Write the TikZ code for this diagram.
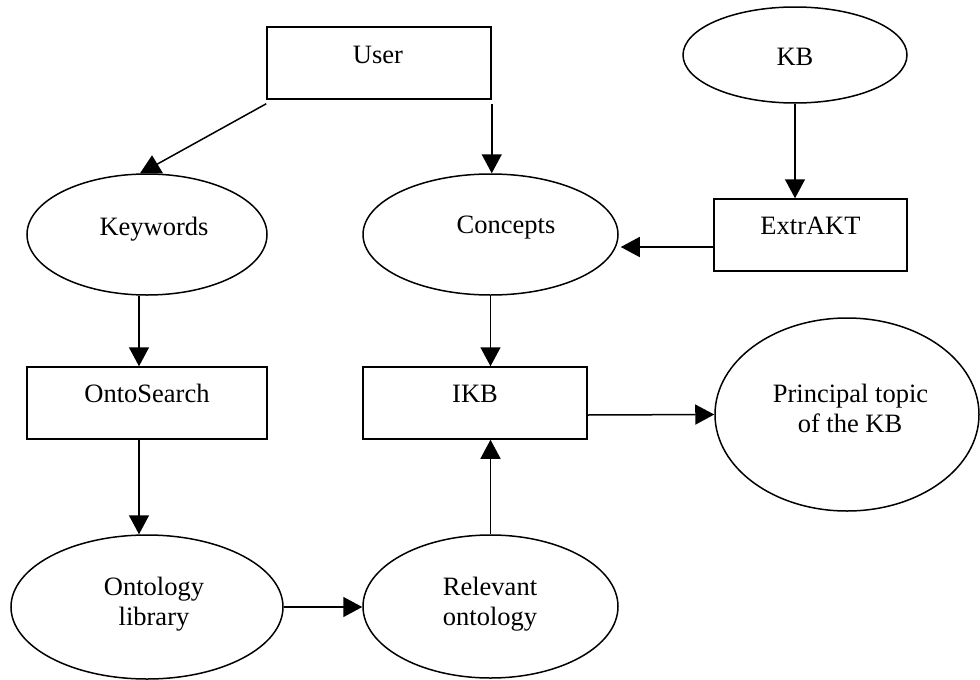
\documentclass[tikz,border=0pt]{standalone}
\usepackage{fontspec}
\setmainfont{Liberation Serif}
\usetikzlibrary{arrows.meta,shapes.geometric}

\tikzset{
  shapeline/.style={draw=black, line width=1.5pt},
  box/.style={shapeline, rectangle, inner sep=0pt},
  oval/.style={shapeline, ellipse, inner sep=0pt},
  lbl/.style={anchor=base, inner sep=0pt, font=\fontsize{26.5}{30}\selectfont},
  flow/.style={line width=1.5pt, -{Triangle[length=19pt,width=20pt]}},
  plain/.style={line width=1.5pt}
}

\begin{document}
\begin{tikzpicture}[x=1pt, y=-1pt]
\useasboundingbox (0,0) rectangle (980,680);

% shapes
\node[box,  minimum width=224pt, minimum height=72pt]  (user) at (379,63) {};
\node[oval, minimum width=224pt, minimum height=96pt]  (kb)   at (795,55) {};
\node[oval, minimum width=240pt, minimum height=121pt] (kw)   at (147,234.5) {};
\node[oval, minimum width=255pt, minimum height=121pt] (con)  at (490.5,234.5) {};
\node[box,  minimum width=193pt, minimum height=72pt]  (extr) at (810.5,235) {};
\node[box,  minimum width=240pt, minimum height=72pt]  (onto) at (147,403) {};
\node[box,  minimum width=224pt, minimum height=72pt]  (ikb)  at (475,403) {};
\node[oval, minimum width=264pt, minimum height=193pt] (ptop) at (847,414.5) {};
\node[oval, minimum width=272pt, minimum height=144pt] (olib) at (147,607) {};
\node[oval, minimum width=255pt, minimum height=143pt] (rel)  at (490.5,606.5) {};

% texts
\node[lbl] (tuser) at (378,63)   {User};
\node[lbl] (tkb)   at (795,65)   {KB};
\node[lbl] (tkw)   at (154,235)  {Keywords};
\node[lbl] (tcon)  at (506,233)  {Concepts};
\node[lbl] (textr) at (810.5,234){ExtrAKT};
\node[lbl] (tonto) at (147,402)  {OntoSearch};
\node[lbl] (tikb)  at (475,402)  {IKB};
\node[lbl] (tpt1)  at (850.5,402){Principal topic};
\node[lbl] (tpt2)  at (850,432)  {of the KB};
\node[lbl] (tol1)  at (154,595)  {Ontology};
\node[lbl] (tol2)  at (154,625)  {library};
\node[lbl] (trel1) at (490,595)  {Relevant};
\node[lbl] (trel2) at (490,625)  {ontology};

% connectors
\coordinate (kwin) at ([shift={(10pt,9pt)}]kw.north);
\draw[plain] ([yshift=-4pt]user.south west) -- (kwin);
\fill ([shift={(5pt,18pt)}]kw.north) -- ([shift={(-7pt,0pt)}]kw.north)
      -- ([shift={(16pt,0pt)}]kw.north) -- cycle;

\draw[flow] ([yshift=-4pt]user.south east) -- (user.south east |- con.north);
\draw[flow] (kb.south) -- (kb.south |- extr.north);
\draw[flow] ([yshift=-12pt]extr.west) -- ([shift={(2pt,-12.5pt)}]con.east);
\draw[flow] ([xshift=-8pt]kw.south) -- ([xshift=-8pt]onto.north);
\draw[flow] ([xshift=-8pt]onto.south) -- ([xshift=-8pt]olib.north);
\draw[flow] (olib.east) -- (olib.east -| rel.west);
\draw[flow] (rel.north) -- (rel.north |- ikb.south);
\draw[flow] (con.south) -- (con.south |- ikb.north);
\draw[flow] ([yshift=-12pt]ikb.east) -- (ptop.west);
\end{tikzpicture}
\end{document}
